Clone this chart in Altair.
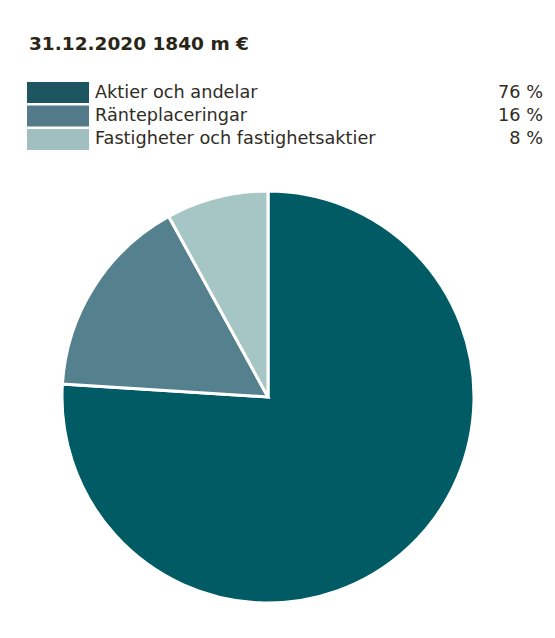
import altair as alt
import pandas as pd

title_text = "31.12.2020 1840 m €"
categories = ["Aktier och andelar", "Ränteplaceringar", "Fastigheter och fastighetsaktier"]
shares = [76, 16, 8]
share_labels = ["76 %", "16 %", "8 %"]
pie_colors = ["#015b64", "#55808e", "#a6c5c5"]
swatch_colors = ["#1d5660", "#537b89", "#a1bfc1"]

df = pd.DataFrame({
    "category": categories,
    "share": shares,
    "label": share_labels,
    "pie_color": pie_colors,
    "swatch": swatch_colors,
    "idx": list(range(len(categories))),
})

FONT = "DejaVu Sans"
TEXT_COLOR = "#302d1f"

base = alt.Chart(df)

ycat = alt.Y("category:N", sort=categories,
             scale=alt.Scale(range=[74, 142], paddingInner=0.106, paddingOuter=0),
             axis=None)

pie = base.mark_arc(radius=206, stroke="white", strokeWidth=3).encode(
    theta=alt.Theta("share:Q", stack=True),
    order=alt.Order("idx:Q", sort="ascending"),
    fill=alt.Fill("pie_color:N", scale=None),
    x=alt.value(260),
    y=alt.value(389),
)

swatches = base.mark_rect().encode(
    x=alt.value(19),
    x2=alt.value(81),
    y=ycat,
    fill=alt.Fill("swatch:N", scale=None),
)

names = base.mark_text(align="left", baseline="middle", font=FONT, fontSize=17.7,
                       color=TEXT_COLOR).encode(
    x=alt.value(87),
    y=ycat,
    text="category:N",
)

pcts = base.mark_text(align="right", baseline="middle", font=FONT, fontSize=17.7,
                      color=TEXT_COLOR).encode(
    x=alt.value(535),
    y=ycat,
    text="label:N",
)

title = alt.Chart(pd.DataFrame({"t": [title_text]})).mark_text(
    align="left", baseline="alphabetic", font=FONT, fontSize=18.5,
    fontWeight="bold", color="#2a2617"
).encode(
    x=alt.value(21),
    y=alt.value(42),
    text="t:N",
)

chart = alt.layer(pie, swatches, names, pcts, title).properties(
    width=539, height=622,
    autosize=alt.AutoSizeParams(type="none"),
    padding=0,
    background="white",
).configure_view(stroke=None)

chart.save("out.html", embed_options={"renderer": "svg", "actions": False})
